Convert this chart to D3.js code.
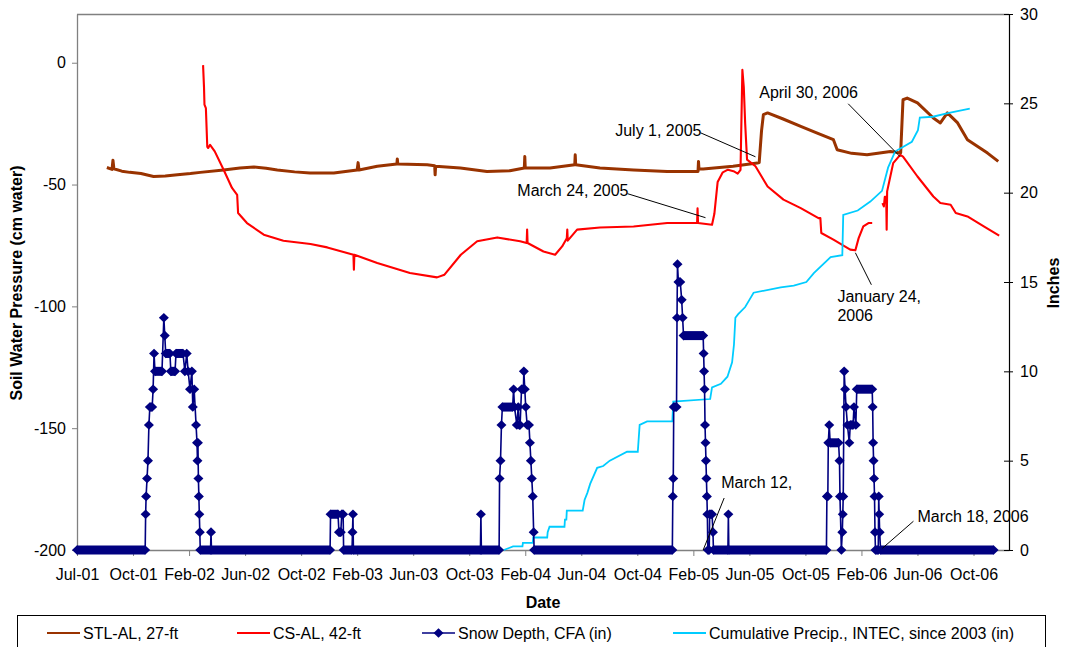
<!DOCTYPE html>
<html><head><meta charset="utf-8">
<script src="https://cdn.jsdelivr.net/npm/d3@7"></script>
<style>
body{margin:0;background:#fff}
svg{display:block}
text{font-family:"Liberation Sans",Arial,sans-serif;fill:#000}
</style>
</head><body>
<svg id="c" width="1065" height="647"></svg>
<script>
// ---------------- DATA ----------------
const xTickDates = ["2001-07-01","2001-10-29","2002-02-26","2002-06-26","2002-10-24","2003-02-21","2003-06-21",
  "2003-10-19","2004-02-16","2004-06-15","2004-10-13","2005-02-10","2005-06-10","2005-10-08","2006-02-05",
  "2006-06-05","2006-10-03"];
const leftTicks = [-200,-150,-100,-50,0];
const rightTicks = [0,5,10,15,20,25,30];

// STL-AL, 27-ft (cm water, left axis)
const stlAL = [
 ["2001-09-03",-43.0],["2001-09-14",-43.8],["2001-09-16",-40.0],["2001-09-18",-43.5],["2001-10-05",-44.5],
 ["2001-10-22",-45.0],["2001-11-15",-45.5],["2001-12-12",-46.7],["2002-01-06",-46.5],["2002-02-01",-46.0],
 ["2002-03-01",-45.5],["2002-03-22",-45.0],["2002-05-11",-44.0],["2002-06-15",-43.2],["2002-07-15",-42.8],
 ["2002-08-10",-43.3],["2002-09-03",-44.0],["2002-10-10",-44.8],["2002-11-12",-45.3],["2003-01-02",-45.3],
 ["2003-02-21",-44.0],["2003-02-23",-41.0],["2003-02-25",-44.0],["2003-04-05",-42.5],["2003-05-17",-41.6],
 ["2003-05-18",-39.5],["2003-05-19",-41.6],["2003-07-21",-41.9],["2003-08-06",-42.3],["2003-08-07",-46.0],
 ["2003-08-08",-42.5],["2003-09-30",-43.2],["2003-11-26",-44.6],["2004-01-14",-44.3],["2004-02-14",-43.2],
 ["2004-02-15",-38.5],["2004-02-16",-43.2],["2004-04-09",-43.2],["2004-06-01",-41.9],["2004-06-02",-37.8],
 ["2004-06-03",-41.9],["2004-07-25",-43.2],["2004-10-05",-44.0],["2004-12-16",-44.6],["2005-02-10",-44.6],
 ["2005-02-20",-44.6],["2005-02-21",-40.5],["2005-02-22",-43.6],["2005-03-03",-43.6],["2005-05-06",-42.5],
 ["2005-06-27",-41.2],["2005-07-01",-41.0],["2005-07-06",-28.0],["2005-07-10",-21.3],["2005-07-19",-20.6],
 ["2005-08-20",-23.0],["2005-09-28",-26.1],["2005-11-01",-28.8],["2005-12-07",-31.6],["2005-12-15",-35.7],
 ["2006-01-15",-37.2],["2006-02-17",-37.8],["2006-04-08",-36.4],["2006-04-30",-37.0],["2006-05-05",-15.2],
 ["2006-05-14",-14.5],["2006-06-05",-16.5],["2006-07-09",-22.7],["2006-07-24",-24.7],["2006-08-08",-20.6],
 ["2006-08-30",-24.7],["2006-09-20",-31.6],["2006-11-02",-37.1],["2006-11-25",-40.5]
];

// CS-AL, 42-ft (cm water, left axis); null = gap in record
const csAL = [
 ["2002-03-28",-1.0],["2002-03-30",-10.0],["2002-03-31",-17.2],["2002-04-03",-18.6],["2002-04-06",-34.5],
 ["2002-04-08",-35.0],["2002-04-12",-33.7],["2002-04-22",-36.4],["2002-05-11",-43.9],["2002-05-29",-51.4],
 ["2002-06-09",-54.2],["2002-06-11",-61.7],["2002-06-30",-65.8],["2002-08-05",-70.6],["2002-09-16",-73.1],
 ["2002-11-13",-74.4],["2002-12-19",-75.8],["2003-02-13",-78.8],["2003-02-14",-85.0],["2003-02-15",-78.8],
 ["2003-04-05",-82.2],["2003-06-14",-86.3],["2003-08-11",-88.1],["2003-08-27",-87.0],["2003-10-01",-78.8],
 ["2003-11-05",-73.3],["2003-12-18",-71.7],["2004-02-05",-73.3],["2004-02-19",-74.0],["2004-02-20",-68.5],
 ["2004-02-21",-74.0],["2004-03-26",-77.5],["2004-04-20",-78.8],["2004-05-05",-75.4],["2004-05-15",-72.0],
 ["2004-05-16",-68.5],["2004-05-17",-73.0],["2004-06-06",-68.5],["2004-07-25",-67.6],["2004-10-05",-67.2],
 ["2004-12-16",-65.8],["2005-02-18",-65.8],["2005-02-19",-59.7],["2005-02-20",-65.8],["2005-03-22",-66.5],
 ["2005-03-27",-62.0],["2005-04-03",-49.0],["2005-04-14",-45.0],["2005-04-25",-43.9],["2005-05-07",-44.5],
 ["2005-05-16",-45.5],["2005-05-22",-44.0],["2005-05-26",-2.9],["2005-05-29",-10.0],["2005-06-01",-25.0],
 ["2005-06-05",-39.8],["2005-06-23",-42.5],["2005-07-19",-50.8],["2005-08-22",-56.2],["2005-09-28",-59.7],
 ["2005-11-05",-63.8],["2005-11-09",-63.8],["2005-11-11",-69.9],["2005-12-07",-72.6],["2006-01-12",-76.7],
 ["2006-01-23",-77.0],["2006-01-30",-72.0],["2006-02-09",-67.2],["2006-02-20",-65.8],["2006-02-28",-65.8],
 ["2006-03-10",null],
 ["2006-03-22",-57.6],["2006-03-25",-59.0],["2006-03-27",-55.0],["2006-03-30",-55.0],["2006-03-31",-68.5],
 ["2006-04-01",-52.8],["2006-04-14",-41.2],["2006-04-29",-37.8],["2006-05-05",-38.5],["2006-06-05",-46.7],
 ["2006-07-09",-54.9],["2006-07-24",-57.6],["2006-08-15",-58.3],["2006-08-26",-61.7],["2006-09-20",-63.1],
 ["2006-10-25",-67.2],["2006-11-27",-71.0]
];

// Snow Depth, CFA (inches, right axis)
const snowDepth = [
 ["2001-07-01",0],["2001-11-24",0],["2001-11-25",2],["2001-11-26",3],["2001-11-28",4],["2001-11-30",5],
 ["2001-12-02",7],["2001-12-04",8],["2001-12-09",8],["2001-12-11",9],["2001-12-13",11],["2001-12-15",10],
 ["2001-12-30",10],["2002-01-03",13],["2002-01-05",12],["2002-01-07",11],["2002-01-16",11],["2002-01-18",10],
 ["2002-01-27",10],["2002-01-29",11],["2002-02-13",11],["2002-02-17",10],["2002-02-21",11],["2002-02-24",10],
 ["2002-02-28",9],["2002-03-04",10],["2002-03-06",8],["2002-03-09",9],["2002-03-13",7],["2002-03-15",6],
 ["2002-03-16",5],["2002-03-17",6],["2002-03-18",4],["2002-03-19",3],["2002-03-20",2],["2002-03-21",1],
 ["2002-03-22",0],["2002-04-13",0],["2002-04-14",1],["2002-04-15",0],
 ["2002-12-25",0],["2002-12-26",2],["2003-01-11",2],["2003-01-13",1],["2003-01-17",1],["2003-01-19",2],
 ["2003-01-22",2],["2003-01-23",0],["2003-02-10",0],["2003-02-11",1],["2003-02-12",2],["2003-02-13",0],
 ["2003-11-12",0],["2003-11-13",2],["2003-11-14",0],
 ["2003-12-22",0],["2003-12-23",4],["2003-12-25",5],["2003-12-27",7],["2003-12-29",8],["2004-01-20",8],
 ["2004-01-22",9],["2004-01-24",8],["2004-01-29",7],["2004-02-01",8],["2004-02-03",7],["2004-02-05",7],
 ["2004-02-08",9],["2004-02-12",9],["2004-02-13",10],["2004-02-15",9],["2004-02-17",8],["2004-02-20",7],
 ["2004-02-24",7],["2004-02-26",6],["2004-02-28",5],["2004-03-01",4],["2004-03-03",3],["2004-03-05",1],
 ["2004-03-06",0],
 ["2004-12-27",0],["2004-12-28",3],["2004-12-29",4],["2004-12-30",8],["2005-01-05",8],["2005-01-06",13],
 ["2005-01-07",16],["2005-01-09",15],["2005-01-13",15],["2005-01-16",14],["2005-01-18",13],["2005-01-20",12],
 ["2005-03-03",12],["2005-03-04",11],["2005-03-05",10],["2005-03-06",9],["2005-03-07",7],["2005-03-08",6],
 ["2005-03-09",5],["2005-03-10",4],["2005-03-11",3],["2005-03-12",2],["2005-03-13",0],["2005-03-16",0],
 ["2005-03-17",2],["2005-03-22",2],["2005-03-24",1],["2005-03-25",0],["2005-04-25",0],["2005-04-26",2],
 ["2005-04-27",0],
 ["2005-11-22",0],["2005-11-23",3],["2005-11-25",3],["2005-11-26",6],["2005-11-28",7],["2005-11-30",6],
 ["2005-12-18",6],["2005-12-20",5],["2005-12-21",3],["2005-12-24",0],["2005-12-26",1],["2005-12-27",2],
 ["2005-12-28",3],["2005-12-30",10],["2006-01-01",9],["2006-01-03",8],["2006-01-06",7],["2006-01-10",6],
 ["2006-01-12",7],["2006-01-18",7],["2006-01-20",8],["2006-01-24",7],["2006-01-26",9],["2006-02-28",9],
 ["2006-03-01",8],["2006-03-02",6],["2006-03-03",5],["2006-03-04",4],["2006-03-05",3],["2006-03-06",1],
 ["2006-03-07",0],["2006-03-13",0],["2006-03-14",3],["2006-03-15",2],["2006-03-16",1],["2006-03-18",0],
 ["2006-11-15",0]
];

// Cumulative Precip., INTEC, since 2003 (inches, right axis)
const cumPrecip = [
 ["2004-01-01",0],["2004-01-21",0.2],["2004-02-10",0.2],["2004-02-11",0.4],["2004-03-03",0.4],["2004-03-04",0.7],
 ["2004-04-03",0.7],["2004-04-04",1.0],["2004-04-08",1.3],["2004-05-10",1.3],["2004-05-11",1.7],["2004-05-14",1.7],
 ["2004-05-15",2.2],["2004-06-18",2.2],["2004-06-22",2.8],["2004-06-28",3.2],["2004-07-04",3.7],["2004-07-19",4.6],
 ["2004-08-01",4.7],["2004-08-15",5.0],["2004-09-21",5.5],["2004-10-14",5.5],["2004-10-18",7.0],["2004-11-03",7.2],
 ["2004-12-27",7.2],["2004-12-29",8.3],["2005-03-18",8.45],["2005-03-22",9.1],["2005-04-10",9.3],["2005-04-24",9.7],
 ["2005-05-04",10.5],["2005-05-08",11.5],["2005-05-11",13.0],["2005-05-17",13.2],["2005-06-01",13.6],
 ["2005-06-10",14.0],["2005-06-19",14.4],["2005-08-16",14.7],["2005-09-13",14.8],["2005-10-10",15.0],
 ["2005-10-26",15.5],["2005-12-01",16.4],["2005-12-26",16.5],["2005-12-28",18.75],["2006-01-28",19.0],
 ["2006-02-24",19.5],["2006-03-21",20.1],["2006-04-03",21.4],["2006-04-18",22.3],["2006-05-24",22.85],
 ["2006-06-06",23.5],["2006-06-10",24.2],["2006-07-08",24.25],["2006-08-09",24.45],["2006-09-25",24.7]
];

// annotations: text lines, target date and value, axis
const annotTexts = [["July 1, 2005"],["March 24, 2005"],["April 30, 2006"],["January 24,","2006"],["March 12,"],["March 18, 2006"]];
const annotDates = ["2005-06-23","2005-03-08","2006-04-29","2006-01-23","2005-03-03","2006-03-22"];
const annotValues = [-38.6,-63.6,-38.6,-78,0,0.1];
const annotAxis = ["left","left","left","left","right","right"];

const legendLabels = ["STL-AL, 27-ft","CS-AL, 42-ft","Snow Depth, CFA (in)","Cumulative Precip., INTEC, since 2003 (in)"];
const seriesColors = ["#993300","#FF0000","#000080","#00CCFF"];

// ---------------- LAYOUT ----------------
const parse = d3.timeParse("%Y-%m-%d");
const P = {left:77, right:1009, top:14, bottom:550};
const svg = d3.select("#c");
svg.append("rect").attr("width",1065).attr("height",647).attr("fill","#fff");

const x = d3.scaleTime().domain([parse("2001-07-01"), parse("2006-12-18")]).range([P.left, P.right]);
const yL = d3.scaleLinear().domain([-200,20]).range([P.bottom, P.top]);
const yR = d3.scaleLinear().domain([0,30]).range([P.bottom, P.top]);

// top border
svg.append("line").attr("x1",P.left).attr("x2",P.right).attr("y1",P.top+0.5).attr("y2",P.top+0.5)
  .attr("stroke","#808080").attr("stroke-width",1.3);

// axes
const fmt = d3.timeFormat("%b-%y");
const gx = svg.append("g").attr("transform",`translate(0,${P.bottom})`)
  .call(d3.axisBottom(x).tickValues(xTickDates.map(parse)).tickFormat(fmt).tickSizeInner(6).tickSizeOuter(0).tickPadding(13));
gx.select(".domain").attr("stroke","#808080").attr("stroke-width",1.3);
gx.selectAll(".tick line").attr("stroke","#808080");
gx.selectAll("text").attr("font-size",16).attr("fill","#000");

const gl = svg.append("g").attr("transform",`translate(${P.left},0)`)
  .call(d3.axisLeft(yL).tickValues(leftTicks).tickFormat(d => String(d)).tickSizeInner(5).tickSizeOuter(0).tickPadding(6));
gl.select(".domain").attr("stroke","#808080").attr("stroke-width",1.3);
gl.selectAll(".tick line").attr("stroke","#808080");
gl.selectAll("text").attr("font-size",16).attr("fill","#000");

const gr = svg.append("g").attr("transform",`translate(${P.right},0)`)
  .call(d3.axisRight(yR).tickValues(rightTicks).tickFormat(d => String(d)).tickSizeInner(4).tickSizeOuter(0).tickPadding(7));
gr.select(".domain").attr("stroke","#000").attr("stroke-width",1.2);
gr.selectAll(".tick line").attr("stroke","#000");
gr.selectAll(".tick").append("line").attr("x1",-5).attr("x2",0).attr("stroke","#000");
gr.selectAll("text").attr("font-size",16).attr("fill","#000");

// axis titles
svg.append("text").attr("x",543).attr("y",608).attr("text-anchor","middle")
  .attr("font-size",16).attr("font-weight","bold").text("Date");
svg.append("text").attr("transform","translate(22,283) rotate(-90)").attr("text-anchor","middle")
  .attr("font-size",16).attr("font-weight","bold").text("Soil Water Pressure (cm water)");
svg.append("text").attr("transform","translate(1059,283) rotate(-90)").attr("text-anchor","middle")
  .attr("font-size",16).attr("font-weight","bold").text("Inches");

// series
const toPts = arr => arr.map(d => ({date: parse(d[0]), v: d[1]}));
const lineL = d3.line().defined(d => d.v !== null).x(d => x(d.date)).y(d => yL(d.v));
const lineR = d3.line().x(d => x(d.date)).y(d => yR(d.v));

svg.append("path").datum(toPts(stlAL)).attr("d",lineL).attr("fill","none")
  .attr("stroke",seriesColors[0]).attr("stroke-width",3).attr("stroke-linejoin","round");
svg.append("path").datum(toPts(csAL)).attr("d",lineL).attr("fill","none")
  .attr("stroke",seriesColors[1]).attr("stroke-width",2.1).attr("stroke-linejoin","round");
svg.append("path").datum(toPts(cumPrecip)).attr("d",lineR).attr("fill","none")
  .attr("stroke",seriesColors[3]).attr("stroke-width",1.8);

// snow depth: line + diamond markers (plateaus drawn as a band of overlapping markers)
const snow = toPts(snowDepth);
const plateaus = [];
for (let i = 1; i < snow.length; i++) if (snow[i].v === snow[i-1].v) plateaus.push([snow[i-1], snow[i]]);
svg.append("path").datum(snow).attr("d",lineR).attr("fill","none")
  .attr("stroke",seriesColors[2]).attr("stroke-width",1.6);
svg.append("g").selectAll("line").data(plateaus).join("line")
  .attr("x1",d => x(d[0].date)).attr("x2",d => x(d[1].date))
  .attr("y1",d => yR(d[0].v)).attr("y2",d => yR(d[1].v))
  .attr("stroke",seriesColors[2]).attr("stroke-width",9);
const diamond = "M0,-4.8L5,0L0,4.8L-5,0Z";
svg.append("g").selectAll("path").data(snow).join("path")
  .attr("d",diamond).attr("transform",d => `translate(${x(d.date)},${yR(d.v)})`)
  .attr("fill",seriesColors[2]);

// annotations
const annotLayout = [
 {lx:-55, ly:-24, tx:-54, ty:-21, anchor:"end"},
 {lx:-78, ly:-24, tx:-77, ty:-22, anchor:"end"},
 {lx:-52, ly:-53, tx:-141, ty:-59, anchor:"start"},
 {lx:16, ly:32, tx:-18, ty:49, anchor:"start"},
 {lx:21, ly:-52, tx:18, ty:-62, anchor:"start"},
 {lx:31, ly:-27, tx:35, ty:-26, anchor:"start"}
];
annotTexts.forEach((lines, i) => {
  const px = x(parse(annotDates[i]));
  const py = (annotAxis[i] === "left" ? yL : yR)(annotValues[i]);
  const L = annotLayout[i];
  svg.append("line").attr("x1",px + L.lx).attr("y1",py + L.ly).attr("x2",px).attr("y2",py)
    .attr("stroke","#000").attr("stroke-width",1);
  const t = svg.append("text").attr("font-size",16).attr("text-anchor",L.anchor);
  lines.forEach((s, j) => t.append("tspan").attr("x",px + L.tx).attr("y",py + L.ty + j*19).text(s));
});

// legend
svg.append("rect").attr("x",17.5).attr("y",615.5).attr("width",1028).attr("height",60)
  .attr("fill","#fff").attr("stroke","#000").attr("stroke-width",1);
const legendX = [47, 237, 422, 673];
legendLabels.forEach((lab, i) => {
  const lx = legendX[i];
  svg.append("line").attr("x1",lx).attr("x2",lx + 33).attr("y1",633).attr("y2",633)
    .attr("stroke",seriesColors[i]).attr("stroke-width",i === 2 ? 1.6 : 2);
  if (i === 2) svg.append("path").attr("d",diamond).attr("transform",`translate(${lx + 16.5},633)`).attr("fill",seriesColors[2]);
  svg.append("text").attr("x",lx + 36).attr("y",639).attr("font-size",16).text(lab);
});
</script>
</body></html>
